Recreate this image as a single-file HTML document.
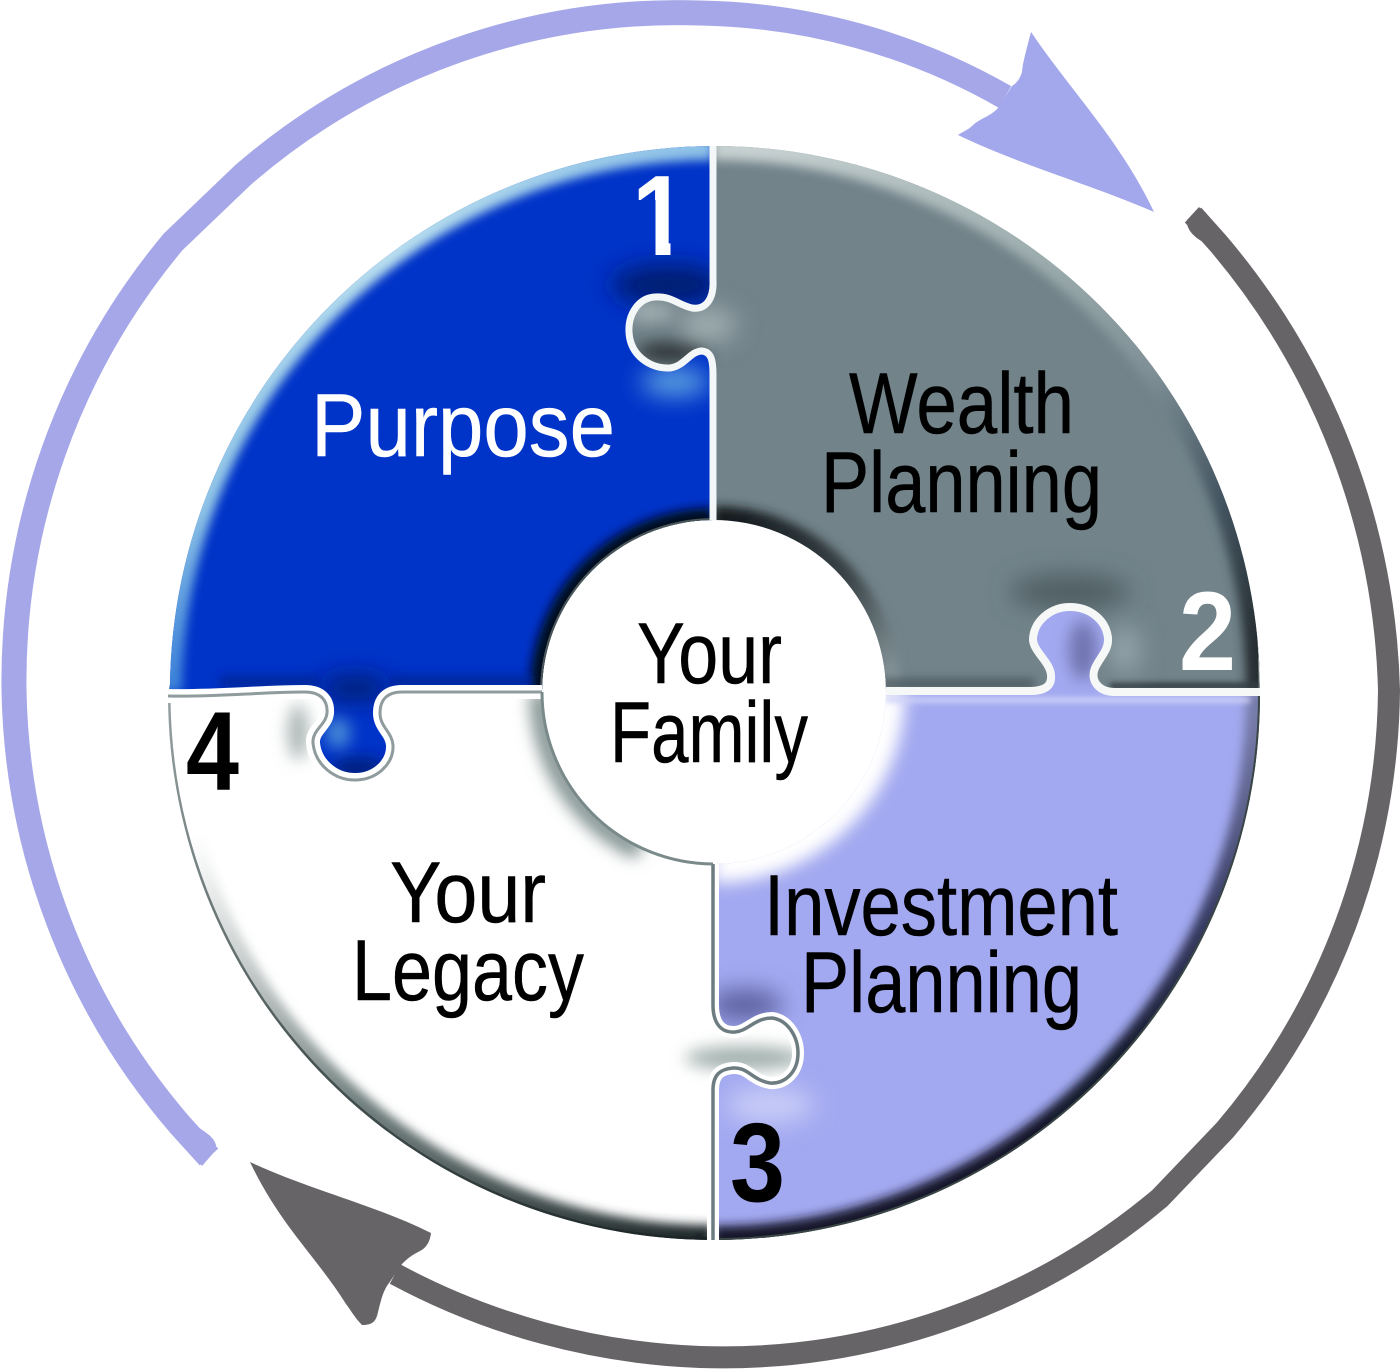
<!DOCTYPE html>
<html><head><meta charset="utf-8"><style>
html,body{margin:0;padding:0;background:#fff}
svg{display:block}
text{font-family:"Liberation Sans",Arial,sans-serif}
</style></head><body>
<svg xmlns="http://www.w3.org/2000/svg" width="1400" height="1370" viewBox="0 0 1400 1370">
<defs>
<path id="pBlue" d="M170,684 A546,546 0 0 1 713,146 L713,280 C714,300 705,310 692,308 C678,305 672,296 655,297 C638,298 628,315 629,332 C630,355 650,369 670,368 C685,366 690,351 702,351 C712,352 713,362 713,375 L713,520 A172,172 0 0 0 542,692 L402,692 C387,692 380,700 380,713 C380,727 392,732 393,745 C394,763 378,779 357,780 C335,781 315,765 313,743 C312,730 326,725 327,713 C328,700 320,692 305,692 C260,692 220,697 168,696 Z"/>
<path id="pGray" d="M713,146 A546,546 0 0 1 1260,692 L1115,692 C1098,692 1090,680 1095,668 C1100,657 1109,650 1108,638 C1106,620 1090,607 1070,607 C1050,607 1033,622 1033,640 C1034,652 1050,662 1051,675 C1052,686 1045,691 1030,691 L886,691 A172,172 0 0 0 713,520 L713,375 C713,362 712,352 702,351 C690,351 685,366 670,368 C650,369 630,355 629,332 C628,315 638,298 655,297 C672,296 678,305 692,308 C705,310 714,300 713,280 Z"/>
<path id="pLav" d="M1260,692 A546,546 0 0 1 713,1240 L713,1090 C713,1075 720,1069 733,1068 C748,1067 752,1080 770,1083 C785,1084 798,1072 798,1053 C798,1037 788,1020 772,1018 C755,1018 748,1031 735,1032 C720,1033 713,1022 713,1005 L713,864 A172,172 0 0 0 886,691 L1030,691 C1045,691 1052,686 1051,675 C1050,662 1034,652 1033,640 C1033,622 1050,607 1070,607 C1090,607 1106,620 1108,638 C1109,650 1100,657 1095,668 C1090,680 1098,692 1115,692 Z"/>
<path id="pWhite" d="M713,1240 A546,546 0 0 1 168,696 C220,697 260,692 305,692 C320,692 328,700 327,713 C326,725 312,730 313,743 C315,765 335,781 357,780 C378,779 394,763 393,745 C392,732 380,727 380,713 C380,700 387,692 402,692 L542,692 A172,172 0 0 0 713,864 L713,1005 C713,1022 720,1033 735,1032 C748,1031 755,1018 772,1018 C788,1020 798,1037 798,1053 C798,1072 785,1084 770,1083 C752,1080 748,1067 733,1068 C720,1069 713,1075 713,1090 Z"/>
<clipPath id="cBlue"><use href="#pBlue"/></clipPath>
<clipPath id="cGray"><use href="#pGray"/></clipPath>
<clipPath id="cLav"><use href="#pLav"/></clipPath>
<clipPath id="cWhite"><use href="#pWhite"/></clipPath>
<clipPath id="cOne"><path d="M630,165 L670.5,165 L670.5,258 L655.5,258 L655.5,200 L630,200 Z"/></clipPath>
<filter id="b3" filterUnits="userSpaceOnUse" x="0" y="0" width="1400" height="1370"><feGaussianBlur stdDeviation="3"/></filter>
<filter id="b5" filterUnits="userSpaceOnUse" x="0" y="0" width="1400" height="1370"><feGaussianBlur stdDeviation="5"/></filter>
<filter id="b8" filterUnits="userSpaceOnUse" x="0" y="0" width="1400" height="1370"><feGaussianBlur stdDeviation="8"/></filter>
<filter id="b12" filterUnits="userSpaceOnUse" x="0" y="0" width="1400" height="1370"><feGaussianBlur stdDeviation="12"/></filter>
<linearGradient id="gBlueEdge" gradientUnits="userSpaceOnUse" x1="170" y1="690" x2="713" y2="146">
<stop offset="0" stop-color="#3a80d8"/><stop offset=".2" stop-color="#8fc4e6"/><stop offset=".6" stop-color="#b8deee"/><stop offset="1" stop-color="#8cc0e6"/>
</linearGradient>
<linearGradient id="gGrayEdge" gradientUnits="userSpaceOnUse" x1="760" y1="150" x2="1260" y2="640">
<stop offset="0" stop-color="#c6d0d0"/><stop offset=".4" stop-color="#9cacad"/><stop offset=".62" stop-color="#7f9097"/><stop offset=".82" stop-color="#435460"/><stop offset="1" stop-color="#262e32"/>
</linearGradient>
<linearGradient id="gGrayInner" gradientUnits="userSpaceOnUse" x1="720" y1="520" x2="886" y2="690">
<stop offset="0" stop-color="#141a1e"/><stop offset=".55" stop-color="#3a4448"/><stop offset="1" stop-color="#8a999e"/>
</linearGradient>
<linearGradient id="gLavEdge" gradientUnits="userSpaceOnUse" x1="1260" y1="720" x2="900" y2="1190">
<stop offset="0" stop-color="#767ba8"/><stop offset=".3" stop-color="#3a3f66"/><stop offset=".6" stop-color="#161b2e"/><stop offset="1" stop-color="#12172a"/>
</linearGradient>
<linearGradient id="gWhiteEdge" gradientUnits="userSpaceOnUse" x1="710" y1="1240" x2="200" y2="830">
<stop offset="0" stop-color="#1c2526"/><stop offset=".55" stop-color="#71807e"/><stop offset="1" stop-color="#ffffff"/>
</linearGradient>
<linearGradient id="gWhiteLine" gradientUnits="userSpaceOnUse" x1="710" y1="1240" x2="168" y2="700">
<stop offset="0" stop-color="#1a2224"/><stop offset=".55" stop-color="#4a5655"/><stop offset="1" stop-color="#949fa0"/>
</linearGradient>
</defs>

<!-- outer circular arrows -->
<path d="M209,1157 L180,1125 A684,684 0 0 1 14,690 A686,686 0 0 1 173,242 L243,175 A663,663 0 0 1 700,13 A634,634 0 0 1 1005,97" fill="none" stroke="#a5a7e8" stroke-width="25"/>
<path d="M190,1122 C205,1132 218,1138 216,1150 L202,1166 L185,1145 Z" fill="#a5a7e8"/>
<path d="M1031,32 C1025,55 1023,62 1022,72 C1020,78 1018,82 1012,86 L998,108 C990,117 980,118 972,126 C968,130 962,132 958,135 C1020,165 1095,186 1154,212 C1120,140 1070,90 1031,32 Z" fill="#a3a7eb"/>

<path d="M1193,215 L1218,243 A720,720 0 0 1 1389,690 A690,690 0 0 1 1225,1130 L1160,1198 A680,680 0 0 1 700,1357 A700,700 0 0 1 395,1274" fill="none" stroke="#676467" stroke-width="22"/>
<path d="M1199,207 L1187,220 C1186,230 1195,238 1205,243 L1220,230 Z" fill="#676467"/>
<path d="M250,1162 C310,1190 375,1205 431,1233 C430,1242 426,1248 420,1251 C412,1255 408,1258 402,1264 L389,1283 C382,1292 380,1305 378,1312 C376,1322 372,1325 362,1325 C355,1318 352,1312 346,1304 C315,1255 280,1225 250,1162 Z" fill="#676467"/>

<!-- blue piece -->
<use href="#pBlue" fill="#0033c8"/>
<g clip-path="url(#cBlue)">
<path d="M168,692 A546,546 0 0 1 713,146" fill="none" stroke="url(#gBlueEdge)" stroke-width="28" filter="url(#b5)"/>
<path d="M713,520 A172,172 0 0 0 542,692" fill="none" stroke="#040d1e" stroke-width="24" filter="url(#b5)"/>
<path d="M713,520 A172,172 0 0 0 542,692" fill="none" stroke="#4a5658" stroke-width="4"/>
<ellipse cx="668" cy="285" rx="56" ry="20" fill="#011a70" filter="url(#b12)"/>
<ellipse cx="675" cy="382" rx="34" ry="14" fill="#5fa4e2" filter="url(#b12)"/>
<ellipse cx="358" cy="768" rx="28" ry="9" fill="#021f70" filter="url(#b8)"/>
<ellipse cx="338" cy="733" rx="12" ry="16" fill="#4a8ed8" filter="url(#b8)"/>
<ellipse cx="355" cy="688" rx="34" ry="12" fill="#021c70" filter="url(#b12)"/>
<path d="M220,682 L320,682 M390,682 L530,682" stroke="#04269a" stroke-width="12" filter="url(#b5)"/>
</g>

<!-- gray piece -->
<use href="#pGray" fill="#72838a"/>
<g clip-path="url(#cGray)">
<path d="M713,146 A546,546 0 0 1 1260,692" fill="none" stroke="url(#gGrayEdge)" stroke-width="28" filter="url(#b5)"/>
<path d="M1100,290 A546,546 0 0 1 1260,692" fill="none" stroke="#d0dcd8" stroke-width="3"/>
<path d="M886,691 A172,172 0 0 0 713,520" fill="none" stroke="url(#gGrayInner)" stroke-width="28" filter="url(#b5)"/>
<path d="M880,684 L1035,684" stroke="#4b585e" stroke-width="10" filter="url(#b5)"/>
<path d="M1110,686 L1260,686" stroke="#333d42" stroke-width="7" filter="url(#b3)"/>
<ellipse cx="1070" cy="592" rx="60" ry="18" fill="#505e63" filter="url(#b12)"/>
<ellipse cx="1125" cy="650" rx="14" ry="24" fill="#96a8ad" filter="url(#b12)"/>
<ellipse cx="672" cy="352" rx="36" ry="10" fill="#2c3234" filter="url(#b8)"/>
<ellipse cx="650" cy="312" rx="24" ry="10" fill="#a2b0b3" filter="url(#b8)"/>
<ellipse cx="708" cy="325" rx="28" ry="16" fill="#a2b0b2" filter="url(#b12)"/>
</g>

<!-- lavender piece -->
<use href="#pLav" fill="#a3a9f0"/>
<g clip-path="url(#cLav)">
<path d="M1260,692 A546,546 0 0 1 713,1240" fill="none" stroke="url(#gLavEdge)" stroke-width="28" filter="url(#b5)"/>
<path d="M1260,692 A546,546 0 0 1 713,1240" fill="none" stroke="#3a4644" stroke-width="4"/>
<path d="M713,864 A172,172 0 0 0 886,691" fill="none" stroke="#fff" stroke-width="38" filter="url(#b8)"/>
<ellipse cx="745" cy="1005" rx="38" ry="16" fill="#5a5e9e" filter="url(#b12)"/>
<ellipse cx="1083" cy="650" rx="14" ry="30" fill="#6f73ae" filter="url(#b8)"/>
<ellipse cx="770" cy="1105" rx="44" ry="18" fill="#c8ccf8" filter="url(#b12)"/>
<path d="M1250,700 L886,700" stroke="#d0d4f8" stroke-width="5" filter="url(#b3)"/>
</g>

<!-- white piece -->
<use href="#pWhite" fill="#fff"/>
<g clip-path="url(#cWhite)">
<path d="M713,1240 A546,546 0 0 1 168,696" fill="none" stroke="url(#gWhiteEdge)" stroke-width="30" filter="url(#b5)"/>
<path d="M540,692 A172,172 0 0 0 640,850" fill="none" stroke="#7e8f8d" stroke-width="20" filter="url(#b8)"/>
<ellipse cx="298" cy="732" rx="10" ry="28" fill="#a8b4b2" filter="url(#b8)"/>
<ellipse cx="745" cy="1058" rx="60" ry="12" fill="#a3b1ae" filter="url(#b8)"/>
<path d="M713,1240 A546,546 0 0 1 168,696" fill="none" stroke="url(#gWhiteLine)" stroke-width="5"/>
</g>

<!-- seams -->
<path d="M713,146 L713,280 C714,300 705,310 692,308 C678,305 672,296 655,297 C638,298 628,315 629,332 C630,355 650,369 670,368 C685,366 690,351 702,351 C712,352 713,362 713,375 L713,520" fill="none" stroke="#f4f7f7" stroke-width="7"/>
<path d="M1260,692 L1115,692 C1098,692 1090,680 1095,668 C1100,657 1109,650 1108,638 C1106,620 1090,607 1070,607 C1050,607 1033,622 1033,640 C1034,652 1050,662 1051,675 C1052,686 1045,691 1030,691 L886,691" fill="none" stroke="#f6f8f8" stroke-width="8"/>
<path d="M713,864 L713,1005 C713,1022 720,1033 735,1032 C748,1031 755,1018 772,1018 C788,1020 798,1037 798,1053 C798,1072 785,1084 770,1083 C752,1080 748,1067 733,1068 C720,1069 713,1075 713,1090 L713,1240" fill="none" stroke="#fff" stroke-width="12"/>
<path d="M713,864 L713,1005 C713,1022 720,1033 735,1032 C748,1031 755,1018 772,1018 C788,1020 798,1037 798,1053 C798,1072 785,1084 770,1083 C752,1080 748,1067 733,1068 C720,1069 713,1075 713,1090 L713,1240" fill="none" stroke="#6d7c80" stroke-width="3.5"/>
<path d="M168,696 C220,697 260,692 305,692 C320,692 328,700 327,713 C326,725 312,730 313,743 C315,765 335,781 357,780 C378,779 394,763 393,745 C392,732 380,727 380,713 C380,700 387,692 402,692 L542,692" fill="none" stroke="#fff" stroke-width="14"/>
<path d="M168,696 C220,697 260,692 305,692 C320,692 328,700 327,713 C326,725 312,730 313,743 C315,765 335,781 357,780 C378,779 394,763 393,745 C392,732 380,727 380,713 C380,700 387,692 402,692 L542,692" fill="none" stroke="#8f9b9d" stroke-width="3"/>
<path d="M542,692 A172,172 0 0 0 713,864" fill="none" stroke="#7a8989" stroke-width="3"/>

<!-- labels -->
<g stroke-width=".5">
<text x="311" y="456" font-size="89" fill="#fff" stroke="#fff" textLength="304" lengthAdjust="spacingAndGlyphs">Purpose</text>
<text x="849" y="433" font-size="86" fill="#000" stroke="#000" textLength="225" lengthAdjust="spacingAndGlyphs">Wealth</text>
<text x="821" y="512" font-size="86" fill="#000" stroke="#000" textLength="281" lengthAdjust="spacingAndGlyphs">Planning</text>
<text x="637" y="683" font-size="86" fill="#000" stroke="#000" textLength="145" lengthAdjust="spacingAndGlyphs">Your</text>
<text x="610" y="762" font-size="86" fill="#000" stroke="#000" textLength="198" lengthAdjust="spacingAndGlyphs">Family</text>
<text x="764" y="935" font-size="86" fill="#000" stroke="#000" textLength="354" lengthAdjust="spacingAndGlyphs">Investment</text>
<text x="801" y="1012" font-size="86" fill="#000" stroke="#000" textLength="281" lengthAdjust="spacingAndGlyphs">Planning</text>
<text x="390" y="922" font-size="86" fill="#000" stroke="#000" textLength="156" lengthAdjust="spacingAndGlyphs">Your</text>
<text x="352" y="1000" font-size="86" fill="#000" stroke="#000" textLength="232" lengthAdjust="spacingAndGlyphs">Legacy</text>
</g>
<g clip-path="url(#cOne)"><text x="632" y="255" font-size="114" font-weight="700" fill="#fff" textLength="55" lengthAdjust="spacingAndGlyphs">1</text></g>
<text x="1179" y="670" font-size="112" font-weight="700" fill="#fff" textLength="57" lengthAdjust="spacingAndGlyphs">2</text>
<text x="730" y="1201" font-size="112" font-weight="700" fill="#000" textLength="55" lengthAdjust="spacingAndGlyphs">3</text>
<text x="186" y="790" font-size="112" font-weight="700" fill="#000" textLength="53" lengthAdjust="spacingAndGlyphs">4</text>
</svg>
</body></html>
